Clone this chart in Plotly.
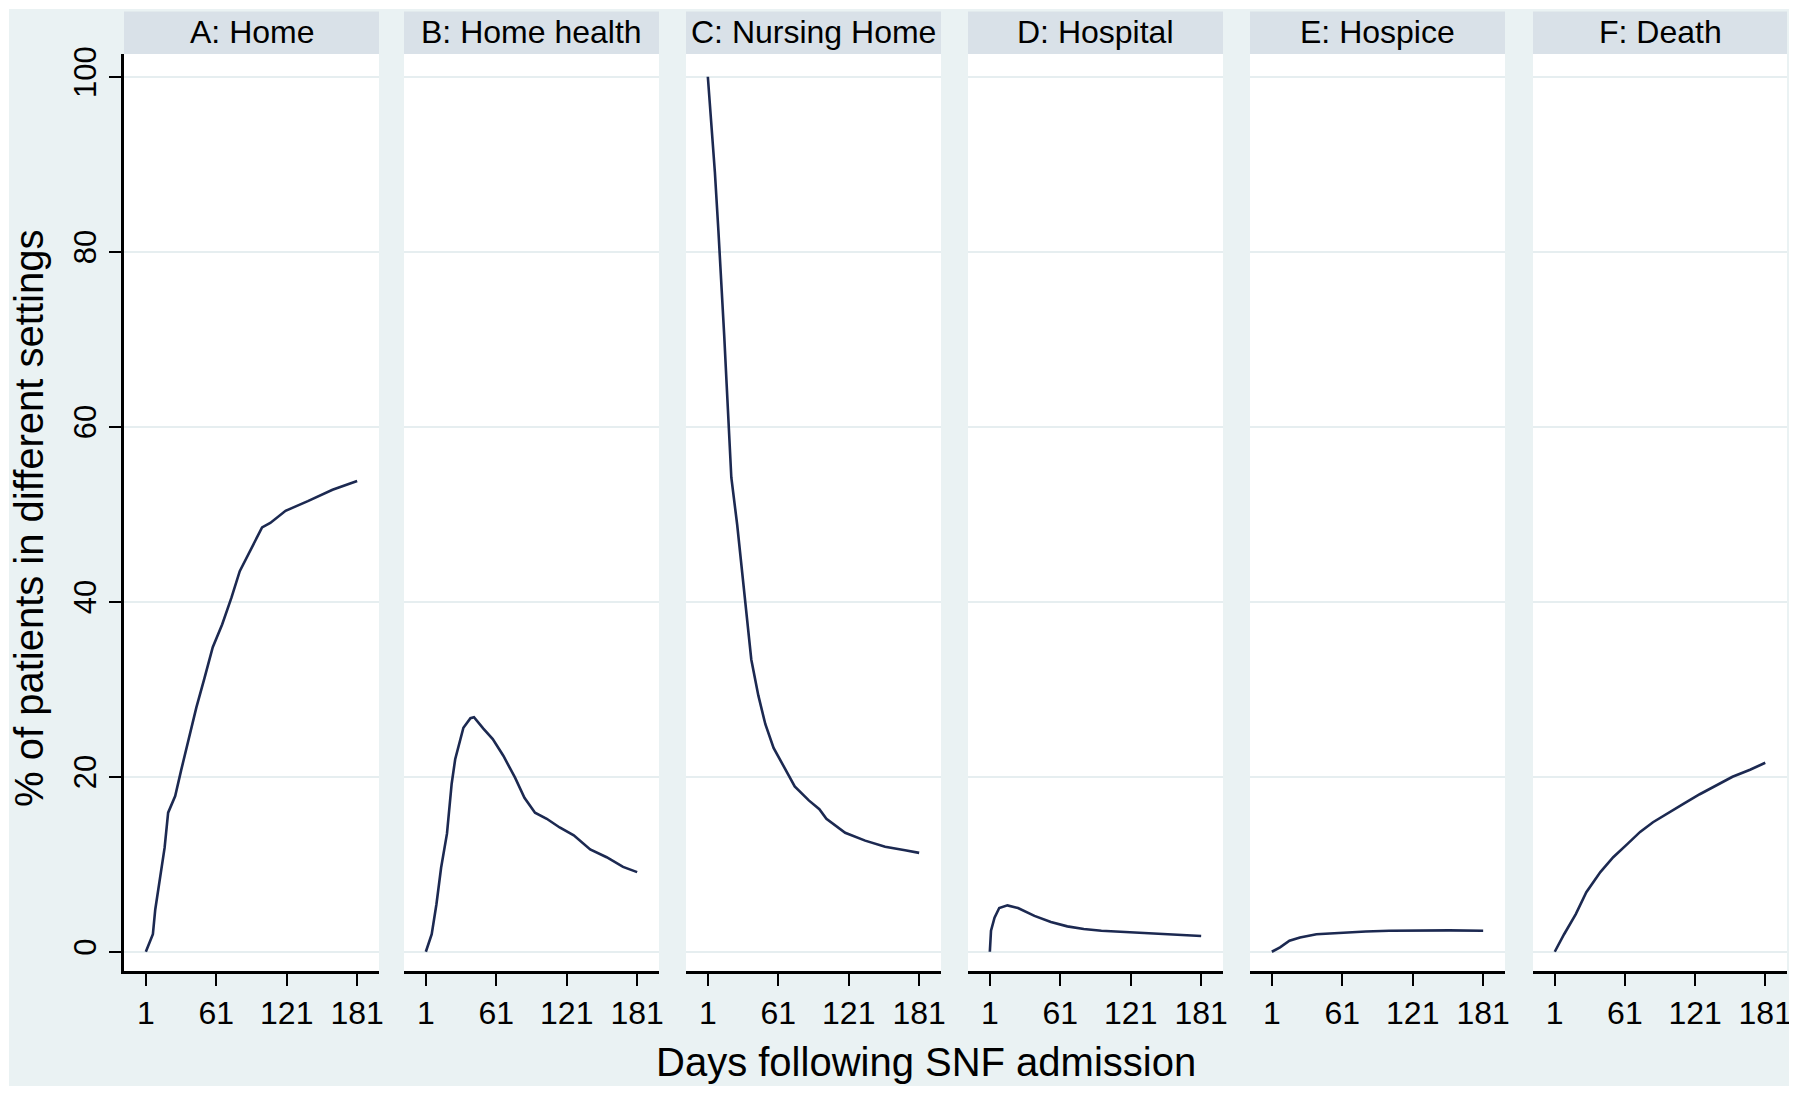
import plotly.graph_objects as go

# ---------------- data ----------------
panel_titles = ["A: Home", "B: Home health", "C: Nursing Home", "D: Hospital", "E: Hospice", "F: Death"]
x_ticks = [1, 61, 121, 181]
y_ticks = [0, 20, 40, 60, 80, 100]

home_days = [1, 7, 9, 13, 17, 20, 26, 31, 37, 44, 51, 58, 66, 74, 81, 90, 100, 107, 120, 139, 160, 181]
home_vals = [0, 2.0, 4.8, 8.1, 11.9, 15.9, 17.8, 20.7, 24.1, 27.9, 31.3, 34.8, 37.4, 40.5, 43.5, 45.8, 48.5, 49.0, 50.4, 51.5, 52.8, 53.8]

hh_days = [1, 6, 10, 14, 19, 23, 26, 30, 33, 39, 42, 50, 58, 67, 77, 85, 94, 104, 115, 127, 141, 155, 169, 181]
hh_vals = [0, 2.0, 5.4, 9.6, 13.5, 19.2, 22.0, 24.1, 25.6, 26.7, 26.8, 25.5, 24.3, 22.4, 19.9, 17.6, 15.9, 15.2, 14.2, 13.3, 11.7, 10.8, 9.7, 9.1]

nh_days = [1, 4, 7, 10, 13, 15, 17, 19, 21, 26, 30, 34, 38, 44, 50, 57, 65, 75, 87, 96, 102, 118, 135, 152, 169, 181]
nh_vals = [100, 94.5, 89.1, 82.4, 75.7, 70.3, 64.9, 59.6, 54.2, 48.8, 43.5, 38.1, 33.4, 29.3, 26.0, 23.3, 21.3, 18.9, 17.3, 16.3, 15.2, 13.6, 12.7, 12.0, 11.6, 11.3]

hosp_days = [1, 2, 5, 9, 16, 25, 39, 53, 67, 81, 96, 110, 124, 138, 152, 167, 181]
hosp_vals = [0, 2.4, 3.9, 5.0, 5.3, 5.0, 4.1, 3.4, 2.9, 2.6, 2.4, 2.3, 2.2, 2.06, 2.0, 1.9, 1.8]

hospice_days = [1, 8, 16, 25, 39, 53, 67, 81, 101, 124, 152, 181]
hospice_vals = [0, 0.5, 1.26, 1.64, 2.0, 2.13, 2.25, 2.32, 2.4, 2.44, 2.44, 2.4]

death_days = [1, 9, 19, 28, 40, 51, 63, 74, 85, 97, 111, 125, 139, 153, 168, 181]
death_vals = [0, 2.0, 4.3, 6.8, 9.1, 10.8, 12.3, 13.7, 14.8, 15.8, 16.9, 18.0, 19.0, 20.0, 20.8, 21.6]

series_days = [home_days, hh_days, nh_days, hosp_days, hospice_days, death_days]
series_vals = [home_vals, hh_vals, nh_vals, hosp_vals, hospice_vals, death_vals]

# ---------------- layout geometry (pixels) ----------------
W, H = 1800, 1095
ML, MR, MT, MB = 124, 13, 54, 124
panel_px = [(124, 379), (404, 659), (686, 941), (968, 1223), (1250, 1505), (1533, 1787)]
plot_w = W - ML - MR
plot_h = H - MT - MB

def px_x(p):
    return (p - ML) / plot_w

def px_y(p):
    return (H - MB - p) / plot_h

BG = "#EAF2F3"
STRIP = "#D9E1E8"
GRID = "#E6EEF0"
LINE = "#1C2951"
FONT = "Liberation Sans, Arial, sans-serif"

fig = go.Figure()
layout = dict(
    width=W, height=H,
    margin=dict(l=ML, r=MR, t=MT, b=MB, autoexpand=False),
    paper_bgcolor=BG,
    plot_bgcolor="white",
    showlegend=False,
    font=dict(family=FONT, color="black"),
)

# white outer frame around the light background
shapes = [
    dict(type="rect", xref="paper", yref="paper", x0=px_x(-5), x1=px_x(9), y0=px_y(1100), y1=px_y(-5),
         fillcolor="white", line=dict(width=0), layer="above"),
    dict(type="rect", xref="paper", yref="paper", x0=px_x(1789), x1=px_x(1805), y0=px_y(1100), y1=px_y(-5),
         fillcolor="white", line=dict(width=0), layer="above"),
    dict(type="rect", xref="paper", yref="paper", x0=px_x(-5), x1=px_x(1805), y0=px_y(9), y1=px_y(-5),
         fillcolor="white", line=dict(width=0), layer="above"),
    dict(type="rect", xref="paper", yref="paper", x0=px_x(-5), x1=px_x(1805), y0=px_y(1100), y1=px_y(1086),
         fillcolor="white", line=dict(width=0), layer="above"),
]
annotations = []

for i in range(6):
    n = "" if i == 0 else str(i + 1)
    xa, ya = "x" + n, "y" + n
    d0, d1 = px_x(panel_px[i][0]), px_x(panel_px[i][1])
    fig.add_trace(go.Scatter(x=series_days[i], y=series_vals[i], mode="lines",
                             line=dict(color=LINE, width=2.6), xaxis=xa, yaxis=ya,
                             hoverinfo="skip"))
    layout["xaxis" + n] = dict(
        domain=[d0, d1], range=[-17.6, 199.6], anchor=ya, automargin=False,
        tickmode="array", tickvals=x_ticks, ticktext=[str(t) for t in x_ticks],
        ticks="outside", ticklen=12, tickwidth=2, tickcolor="black",
        showline=True, linecolor="black", linewidth=2.5,
        showgrid=False, zeroline=False,
        tickfont=dict(size=32, family=FONT, color="black"),
    )
    yd = dict(
        domain=[0, 1], range=[-2.2, 102.6], anchor=xa, automargin=False,
        tickmode="array", tickvals=y_ticks,
        showgrid=True, gridcolor=GRID, gridwidth=2, zeroline=False,
    )
    if i == 0:
        yd.update(ticks="outside", ticklen=12, tickwidth=2, tickcolor="black",
                  showline=True, linecolor="black", linewidth=2.5,
                  tickangle=-90, tickfont=dict(size=31, family=FONT, color="black"),
                  ticktext=[str(t) for t in y_ticks], showticklabels=True,
                  ticklabelstandoff=1)
    else:
        yd.update(showticklabels=False, ticks="", showline=False, matches="y")
    layout["yaxis" + n] = yd

    shapes.append(dict(type="rect", xref="paper", yref="paper",
                       x0=d0, x1=d1, y0=1.0, y1=px_y(11.5),
                       fillcolor=STRIP, line=dict(width=0), layer="below"))
    annotations.append(dict(text=panel_titles[i], xref="paper", yref="paper",
                            x=(d0 + d1) / 2, y=px_y(32), xanchor="center", yanchor="middle",
                            showarrow=False, font=dict(size=32, family=FONT, color="black")))

annotations.append(dict(text="Days following SNF admission", xref="paper", yref="paper",
                        x=px_x(926), y=px_y(1062), xanchor="center", yanchor="middle",
                        showarrow=False, font=dict(size=40, family=FONT, color="black")))
annotations.append(dict(text="% of patients in different settings", xref="paper", yref="paper",
                        x=px_x(29), y=px_y(519), xanchor="center", yanchor="middle",
                        textangle=-90, showarrow=False,
                        font=dict(size=40, family=FONT, color="black")))

layout["shapes"] = shapes
layout["annotations"] = annotations
fig.update_layout(**layout)
fig.write_html("out.html", config={"displayModeBar": False},
               post_script="document.body.style.margin='0px';document.body.style.overflow='hidden';")
